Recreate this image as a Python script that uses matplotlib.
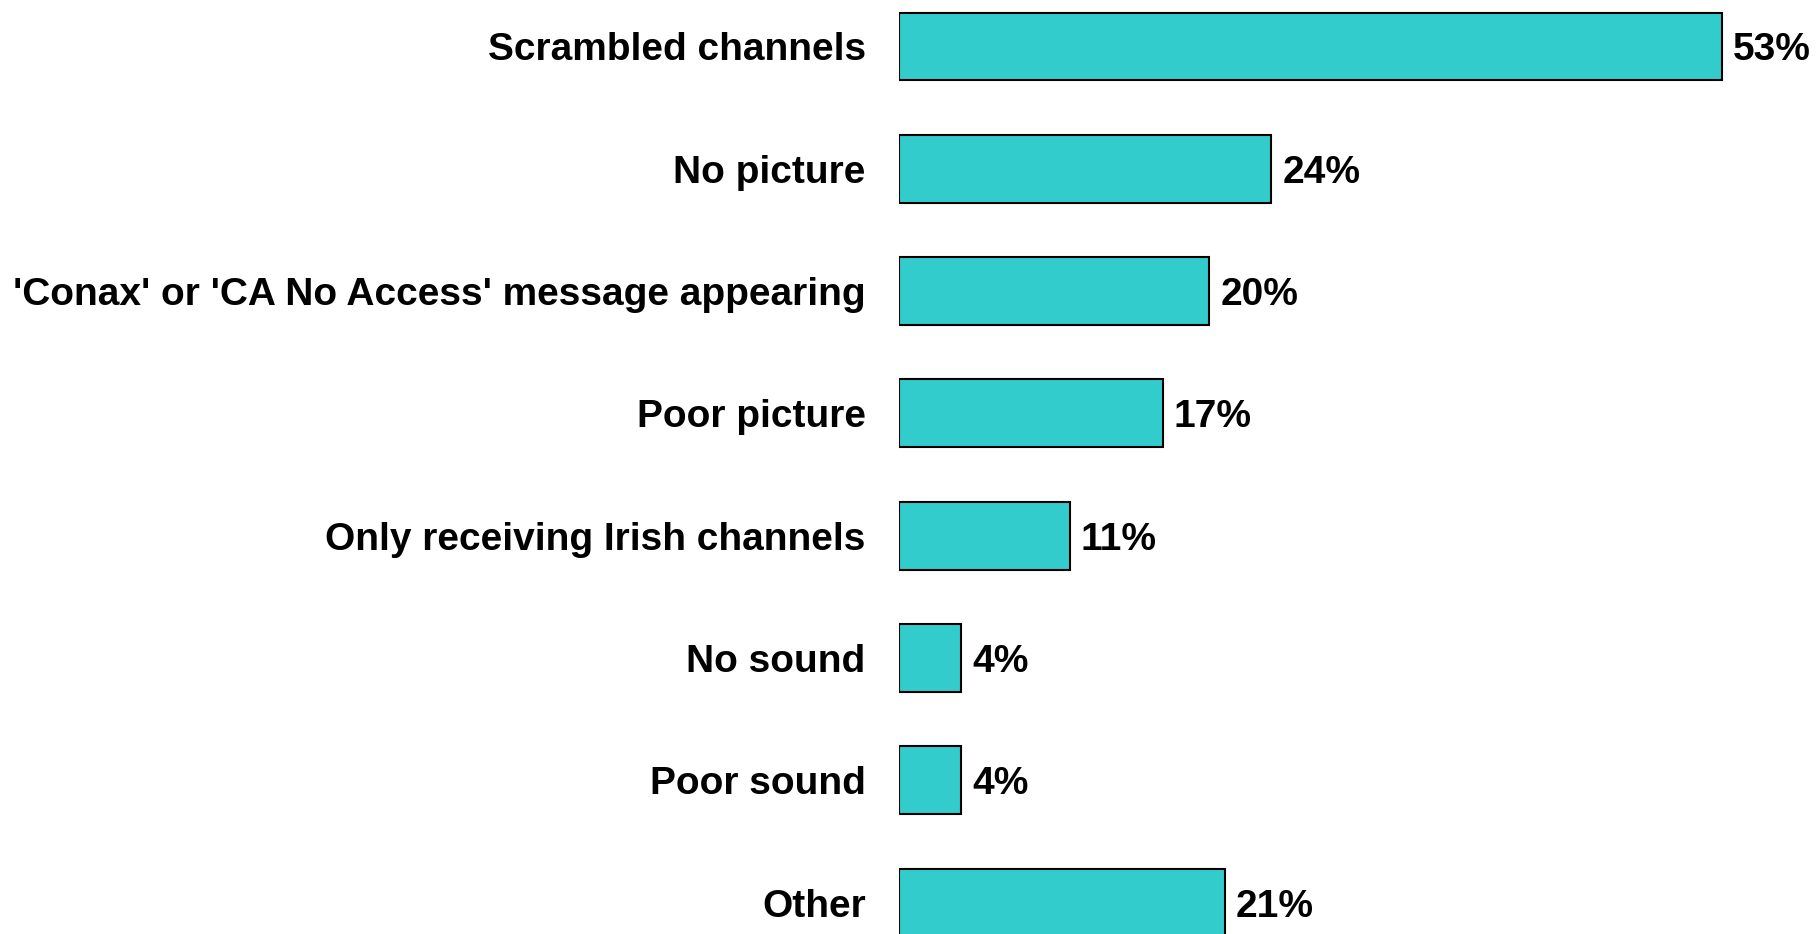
import matplotlib
matplotlib.use("Agg")
import matplotlib.pyplot as plt

categories = ["Scrambled channels", "No picture", "'Conax' or 'CA No Access' message appearing",
              "Poor picture", "Only receiving Irish channels", "No sound", "Poor sound", "Other"]
values = [53, 24, 20, 17, 11, 4, 4, 21]
value_labels = ["53%", "24%", "20%", "17%", "11%", "4%", "4%", "21%"]

plt.rcParams['font.family'] = ['Liberation Sans', 'DejaVu Sans']

fig = plt.figure(figsize=(18.16, 9.34), dpi=100)
ax = fig.add_axes([899/1816, 0, 1 - 899/1816, 1])
y = list(range(len(categories)))
ax.barh(y, values, height=0.555, color='#33CCCC', edgecolor='black', linewidth=1.5)
ax.set_ylim(7.257, -0.38)
ax.set_xlim(0, 917/15.52)
for yi, v, lab in zip(y, values, value_labels):
    ax.annotate(lab, (v, yi), xytext=(11, 0), textcoords='offset pixels',
                ha='left', va='center_baseline', fontsize=28, fontweight='bold', color='black')
ax.set_yticks(y)
ax.set_yticklabels(categories, fontsize=28, fontweight='bold')
ax.tick_params(axis='y', length=0, pad=24)
ax.set_xticks([])
for s in ax.spines.values():
    s.set_visible(False)
fig.savefig("out.png", dpi=100)
